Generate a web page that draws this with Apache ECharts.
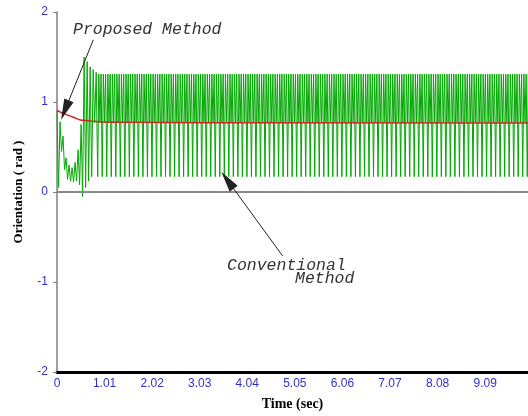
<!DOCTYPE html>
<html>
<head>
<meta charset="utf-8">
<script src="https://cdn.jsdelivr.net/npm/echarts@6/dist/echarts.min.js"></script>
<style>
  html, body { margin: 0; padding: 0; background: #fff; }
  #chart { width: 528px; height: 416px; }
</style>
</head>
<body>
<div id="chart"></div>
<script>
// Time axis ticks (sec) and orientation range (rad)
const timeMax = 10.0;
const timeStep = 1.01;
const yMin = -2, yMax = 2, yStep = 1;

// Conventional method, start-up transient: time (sec) and orientation (rad)
const startTime = [
  0.000, 0.032, 0.064, 0.096, 0.128, 0.160, 0.192, 0.224, 0.256, 0.288,
  0.320, 0.352, 0.384, 0.416, 0.448, 0.480, 0.512, 0.544, 0.576, 0.608,
  0.640, 0.672, 0.704, 0.736, 0.768, 0.800, 0.832, 0.864
];
const startValue = [
  0.90, 0.05, 0.78, 0.45, 0.62, 0.25, 0.38, 0.14, 0.30, 0.12,
  0.27, 0.11, 0.33, 0.12, 0.47, 0.08, 0.75, -0.05, 1.50, 0.05,
  1.45, 0.12, 1.39, 0.17, 1.36, 0.77, 1.33, 0.17
];

// Conventional method, chattering regime: sampled every steadyDt seconds from steadyStart
const steadyStart = 0.888;
const steadyDt = 0.024;
const steadyValue = [
  1.31, 0.77, 1.31, 0.17, 1.31, 0.77, 1.31, 0.17, 1.31, 0.77, 1.31, 0.17, 1.31, 0.77, 1.31, 0.17, 1.31, 0.77, 1.31, 0.17, 1.31, 0.77, 1.31, 0.17,
  1.31, 0.77, 1.31, 0.17, 1.31, 0.77, 1.31, 0.17, 1.31, 0.77, 1.31, 0.17, 1.31, 0.77, 1.31, 0.17, 1.31, 0.77, 1.31, 0.17, 1.31, 0.77, 1.31, 0.17,
  1.31, 0.77, 1.31, 0.17, 1.31, 0.77, 1.31, 0.17, 1.31, 0.77, 1.31, 0.17, 1.31, 0.77, 1.31, 0.17, 1.31, 0.77, 1.31, 0.17, 1.31, 0.77, 1.31, 0.17,
  1.31, 0.77, 1.31, 0.17, 1.31, 0.77, 1.31, 0.17, 1.31, 0.77, 1.31, 0.17, 1.31, 0.77, 1.31, 0.17, 1.31, 0.77, 1.31, 0.17, 1.31, 0.77, 1.31, 0.17,
  1.31, 0.77, 1.31, 0.17, 1.31, 0.77, 1.31, 0.17, 1.31, 0.77, 1.31, 0.17, 1.31, 0.77, 1.31, 0.17, 1.31, 0.77, 1.31, 0.17, 1.31, 0.77, 1.31, 0.17,
  1.31, 0.77, 1.31, 0.17, 1.31, 0.77, 1.31, 0.17, 1.31, 0.77, 1.31, 0.17, 1.31, 0.77, 1.31, 0.17, 1.31, 0.77, 1.31, 0.17, 1.31, 0.77, 1.31, 0.17,
  1.31, 0.77, 1.31, 0.17, 1.31, 0.77, 1.31, 0.17, 1.31, 0.77, 1.31, 0.17, 1.31, 0.77, 1.31, 0.17, 1.31, 0.77, 1.31, 0.17, 1.31, 0.77, 1.31, 0.17,
  1.31, 0.77, 1.31, 0.17, 1.31, 0.77, 1.31, 0.17, 1.31, 0.77, 1.31, 0.17, 1.31, 0.77, 1.31, 0.17, 1.31, 0.77, 1.31, 0.17, 1.31, 0.77, 1.31, 0.17,
  1.31, 0.77, 1.31, 0.17, 1.31, 0.77, 1.31, 0.17, 1.31, 0.77, 1.31, 0.17, 1.31, 0.77, 1.31, 0.17, 1.31, 0.77, 1.31, 0.17, 1.31, 0.77, 1.31, 0.17,
  1.31, 0.77, 1.31, 0.17, 1.31, 0.77, 1.31, 0.17, 1.31, 0.77, 1.31, 0.17, 1.31, 0.77, 1.31, 0.17, 1.31, 0.77, 1.31, 0.17, 1.31, 0.77, 1.31, 0.17,
  1.31, 0.77, 1.31, 0.17, 1.31, 0.77, 1.31, 0.17, 1.31, 0.77, 1.31, 0.17, 1.31, 0.77, 1.31, 0.17, 1.31, 0.77, 1.31, 0.17, 1.31, 0.77, 1.31, 0.17,
  1.31, 0.77, 1.31, 0.17, 1.31, 0.77, 1.31, 0.17, 1.31, 0.77, 1.31, 0.17, 1.31, 0.77, 1.31, 0.17, 1.31, 0.77, 1.31, 0.17, 1.31, 0.77, 1.31, 0.17,
  1.31, 0.77, 1.31, 0.17, 1.31, 0.77, 1.31, 0.17, 1.31, 0.77, 1.31, 0.17, 1.31, 0.77, 1.31, 0.17, 1.31, 0.77, 1.31, 0.17, 1.31, 0.77, 1.31, 0.17,
  1.31, 0.77, 1.31, 0.17, 1.31, 0.77, 1.31, 0.17, 1.31, 0.77, 1.31, 0.17, 1.31, 0.77, 1.31, 0.17, 1.31, 0.77, 1.31, 0.17, 1.31, 0.77, 1.31, 0.17,
  1.31, 0.77, 1.31, 0.17, 1.31, 0.77, 1.31, 0.17, 1.31, 0.77, 1.31, 0.17, 1.31, 0.77, 1.31, 0.17, 1.31, 0.77, 1.31, 0.17, 1.31, 0.77, 1.31, 0.17,
  1.31, 0.77, 1.31, 0.17, 1.31, 0.77, 1.31, 0.17, 1.31, 0.77, 1.31, 0.17, 1.31, 0.77, 1.31, 0.17, 1.31, 0.77, 1.31, 0.17, 1.31, 0.77, 1.31, 0.17
];

// Proposed method: time (sec) and orientation (rad)
const proposedTime  = [0, 0.10, 0.20, 0.30, 0.40, 0.50, 0.60, 0.70, 0.80, 0.90, 1.00, 1.50, 3.00, 10.0];
const proposedValue = [0.91, 0.88, 0.86, 0.84, 0.82, 0.80, 0.795, 0.79, 0.785, 0.78, 0.777, 0.775, 0.77, 0.767];

// Annotation arrows: [tail, tip] as (time, orientation)
const proposedArrow = [[0.77, 1.69], [0.17, 0.91]];
const conventionalArrow = [[4.79, -0.71], [3.62, 0.13]];

const conventionalData = startTime.map((t, i) => [t, startValue[i]])
  .concat(steadyValue.map((v, i) => [+(steadyStart + i * steadyDt).toFixed(4), v]));
const proposedData = proposedTime.map((t, i) => [t, proposedValue[i]]);

const chart = echarts.init(document.getElementById('chart'), null, { renderer: 'canvas' });

const arrowLine = (pts) => ({
  silent: true,
  symbol: ['none', 'triangle'],
  symbolSize: [10, 21],
  label: { show: false },
  lineStyle: { color: '#222', width: 1, type: 'solid' },
  itemStyle: { color: '#000' },
  data: [[{ coord: pts[0] }, { coord: pts[1] }]]
});

const tickLabelColor = '#3030c8';
const serifBold = { fontFamily: '"Liberation Serif", "DejaVu Serif", serif', fontWeight: 'bold', color: '#000' };
const annFont = 'italic 16.5px "Liberation Mono", "Courier New", monospace';

chart.setOption({
  animation: false,
  backgroundColor: '#fff',
  grid: { left: 57, right: 0, top: 12, bottom: 41, containLabel: false },
  xAxis: [{
    type: 'value',
    min: 0, max: timeMax, interval: timeStep,
    name: 'Time (sec)',
    nameLocation: 'middle',
    nameGap: 25,
    nameTextStyle: Object.assign({ fontSize: 14 }, serifBold),
    axisLine: { show: true, onZero: false, lineStyle: { color: '#000', width: 3 } },
    axisTick: { show: false },
    splitLine: { show: false },
    axisLabel: {
      color: tickLabelColor, fontSize: 12, fontFamily: '"Liberation Sans", Arial, sans-serif',
      margin: 6, showMaxLabel: false,
      formatter: (v) => (v === 0 ? '0' : v.toFixed(2))
    }
  }, {
    type: 'value',
    position: 'top',
    min: 0, max: timeMax,
    axisLine: { show: true, lineStyle: { color: '#000', width: 1 } },
    axisTick: { show: false },
    axisLabel: { show: false },
    splitLine: { show: false }
  }],
  yAxis: {
    type: 'value',
    min: yMin, max: yMax, interval: yStep,
    name: 'Orientation ( rad )',
    nameLocation: 'middle',
    nameGap: 32,
    nameRotate: 90,
    nameTextStyle: Object.assign({ fontSize: 13 }, serifBold),
    axisLine: { show: true, onZero: false, lineStyle: { color: '#808080', width: 1.5 } },
    axisTick: { show: true, length: 4, lineStyle: { color: '#808080' } },
    splitLine: { show: false },
    axisLabel: { color: tickLabelColor, fontSize: 12, fontFamily: '"Liberation Sans", Arial, sans-serif', margin: 9 }
  },
  series: [{
    name: 'Conventional Method',
    type: 'line',
    data: conventionalData,
    showSymbol: false,
    symbol: 'none',
    lineStyle: { color: '#00a800', width: 1 },
    z: 2,
    markLine: {
      silent: true,
      symbol: ['none', 'none'],
      label: { show: false },
      lineStyle: { color: '#8a8a8a', width: 2, type: 'solid' },
      data: [{ yAxis: 0 }]
    }
  }, {
    name: 'Proposed Method',
    type: 'line',
    data: proposedData,
    showSymbol: false,
    symbol: 'none',
    smooth: true,
    lineStyle: { color: '#cc2a20', width: 1.5 },
    z: 3,
    markLine: arrowLine(proposedArrow)
  }, {
    name: 'arrow2',
    type: 'line',
    data: [],
    z: 4,
    markLine: arrowLine(conventionalArrow)
  }],
  graphic: [
    { type: 'text', left: 73, top: 21, style: { text: 'Proposed Method', font: annFont, fill: '#333' } },
    { type: 'text', left: 227, top: 257, style: { text: 'Conventional', font: annFont, fill: '#333' } },
    { type: 'text', left: 295, top: 270, style: { text: 'Method', font: annFont, fill: '#333' } }
  ]
});
</script>
</body>
</html>
